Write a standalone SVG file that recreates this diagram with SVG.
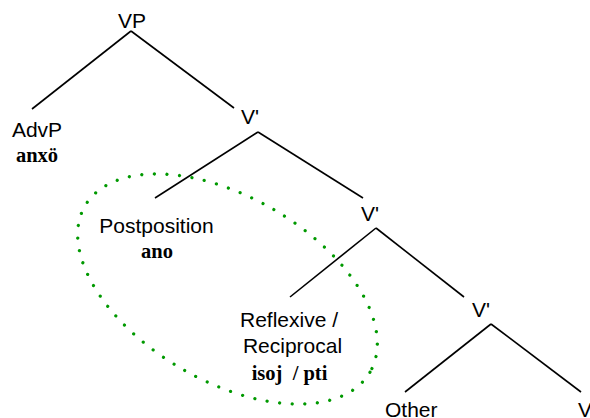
<svg xmlns="http://www.w3.org/2000/svg" width="590" height="418" viewBox="0 0 590 418">
<style>
.s{font-family:"Liberation Sans",Arial,sans-serif;font-size:21px;fill:#000}
.b{font-family:"Liberation Serif","Times New Roman",serif;font-size:20.5px;font-weight:bold;fill:#000;white-space:pre}
.e{fill:#000;stroke:none}
#connectors line{stroke:#000;stroke-width:1.6}
</style>
<rect width="590" height="418" fill="#fff"/>
<g id="connectors">
<line x1="131" y1="31" x2="32" y2="109"/>
<line x1="131" y1="31" x2="234" y2="108"/>
<line x1="258" y1="132" x2="155" y2="198"/>
<line x1="258" y1="132" x2="363" y2="198"/>
<line x1="376" y1="228" x2="290" y2="297"/>
<line x1="376" y1="228" x2="464" y2="297"/>
<line x1="491" y1="324" x2="405" y2="392"/>
<line x1="491" y1="324" x2="581" y2="392"/>
</g>
<g id="highlight">
<ellipse cx="227.5" cy="289" rx="165" ry="92" transform="rotate(30.3 227.5 289)" fill="none" stroke="#009900" stroke-width="3.2" stroke-linecap="round" stroke-dasharray="0 12.6"/>
</g>
<g id="node-vp"><text class="s" x="132" y="28" text-anchor="middle">VP</text></g>
<g id="node-advp"><text class="s" x="37" y="137" text-anchor="middle">AdvP</text><text class="b" x="37" y="162" text-anchor="middle">anxö</text></g>
<g id="node-v1"><text class="s" x="250" y="124" text-anchor="middle">V'</text></g>
<g id="node-postposition"><text class="s" x="156.5" y="233" text-anchor="middle">Postposition</text><text class="b" x="157" y="258" text-anchor="middle">ano</text></g>
<g id="node-v2"><text class="s" x="370" y="221" text-anchor="middle">V'</text></g>
<g id="node-reflexive"><text class="s" x="289" y="327" text-anchor="middle">Reflexive /</text><text class="s" x="292.5" y="353" text-anchor="middle">Reciprocal</text><text class="b" x="289.5" y="380" text-anchor="middle">isoj  / pti</text></g>
<g id="node-v3"><text class="s" x="481" y="317" text-anchor="middle">V'</text></g>
<g id="node-other"><text class="s" x="385" y="417">Other</text></g>
<g id="node-v"><text class="s" x="578" y="417">V</text></g>
</svg>
